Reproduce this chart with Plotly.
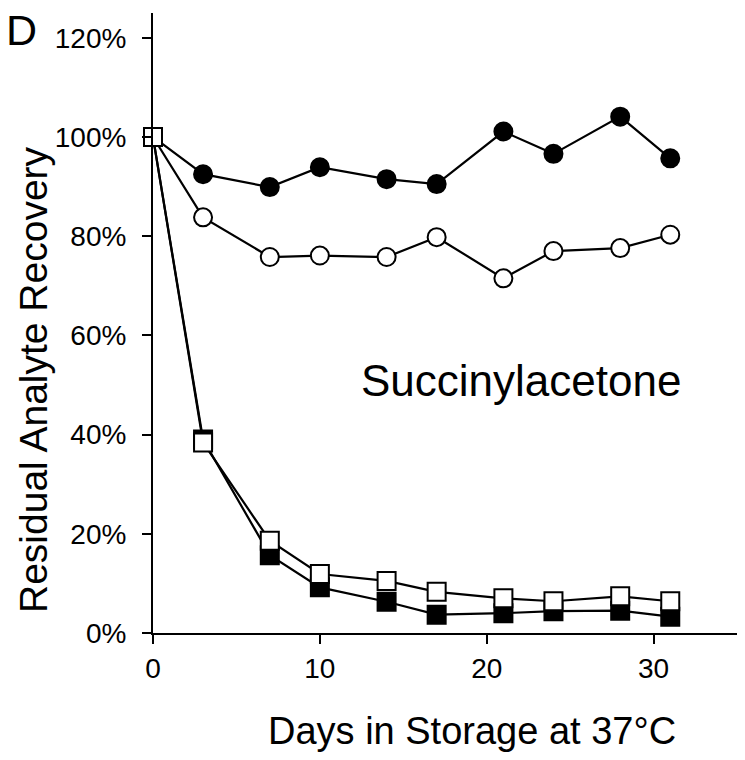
import plotly.graph_objects as go

days = [0, 3, 7, 10, 14, 17, 21, 24, 28, 31]
filled_circle = [100, 92.5, 89.9, 93.9, 91.5, 90.5, 101.1, 96.6, 104.1, 95.7]
open_circle = [100, 83.8, 75.8, 76.1, 75.8, 79.8, 71.5, 77.0, 77.6, 80.3]
filled_square = [100, 39.0, 15.7, 9.2, 6.3, 3.7, 4.0, 4.4, 4.5, 3.3]
open_square = [100, 38.4, 18.6, 11.9, 10.5, 8.3, 7.0, 6.4, 7.4, 6.4]

x_ticks = [0, 10, 20, 30]
y_ticks = [0, 20, 40, 60, 80, 100, 120]
y_tick_text = [f"{v}%" for v in y_ticks]

FONT = "Arial, 'Liberation Sans', sans-serif"

fig = go.Figure()

def add(y, symbol, fill):
    fig.add_trace(go.Scatter(
        x=days, y=y, mode="lines+markers",
        line=dict(color="black", width=2.2),
        marker=dict(symbol=symbol, size=18, color=fill,
                    line=dict(color="black", width=2)),
        showlegend=False, cliponaxis=False,
    ))

add(filled_circle, "circle", "black")
add(open_circle, "circle", "white")
add(filled_square, "square", "black")
add(open_square, "square", "white")

W, H = 745, 760
L, R, T, B = 153, 8, 13, 127
pw = W - L - R
ph = H - T - B

fig.update_layout(
    width=W, height=H,
    margin=dict(l=L, r=R, t=T, b=B, pad=0),
    plot_bgcolor="white", paper_bgcolor="white",
    font=dict(family=FONT, color="black", size=28),
    xaxis=dict(range=[0, 35], tickvals=x_ticks, ticks="outside", ticklen=9,
               tickwidth=2, tickcolor="black", showline=True, linewidth=2,
               linecolor="black", showgrid=False, zeroline=False,
               tickfont=dict(size=28, family=FONT)),
    yaxis=dict(range=[0, 125], tickvals=y_ticks, ticktext=y_tick_text,
               ticks="outside", ticklen=9, tickwidth=2, tickcolor="black",
               showline=True, linewidth=2, linecolor="black", showgrid=False,
               zeroline=False, ticklabelstandoff=10,
               tickfont=dict(size=28, family=FONT)),
)

# axis extensions (lines reach past the crossing by one tick length)
fig.add_shape(type="line", xref="paper", yref="paper",
              x0=-9 / pw, x1=0, y0=0, y1=0, line=dict(color="black", width=2))
fig.add_shape(type="line", xref="paper", yref="paper",
              x0=0, x1=0, y0=-9 / ph, y1=0, line=dict(color="black", width=2))

def px_x(px):
    return (px - L) / pw

def px_y(py):
    return (H - B - py) / ph

fig.add_annotation(text="Residual Analyte Recovery", xref="paper", yref="paper",
                   x=px_x(33), y=px_y(380), textangle=-90, showarrow=False,
                   xanchor="center", yanchor="middle", font=dict(size=39, family=FONT))
fig.add_annotation(text="Days in Storage at 37°C", xref="paper", yref="paper",
                   x=px_x(471.5), y=px_y(731), showarrow=False,
                   xanchor="center", yanchor="middle", font=dict(size=38, family=FONT))
fig.add_annotation(text="D", xref="paper", yref="paper",
                   x=px_x(21), y=px_y(30), showarrow=False,
                   xanchor="center", yanchor="middle", font=dict(size=43, family=FONT))
fig.add_annotation(text="Succinylacetone", xref="x", yref="y",
                   x=22.08, y=51.0, showarrow=False,
                   xanchor="center", yanchor="middle", font=dict(size=44, family=FONT))

fig.write_html("out.html", config={"displayModeBar": False},
               post_script="document.body.style.margin='0';")
